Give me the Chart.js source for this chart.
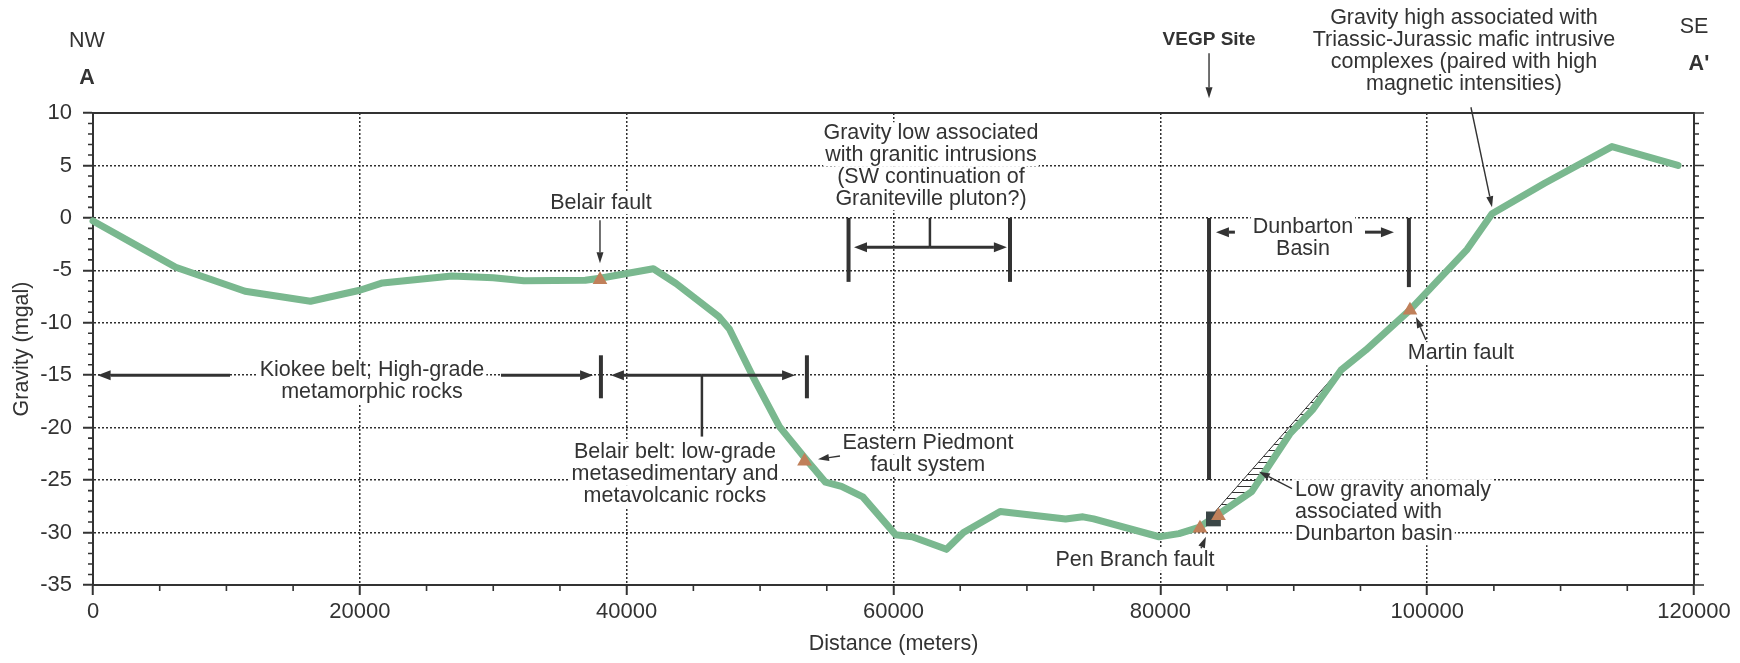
<!DOCTYPE html>
<html>
<head>
<meta charset="utf-8">
<script src="https://cdn.jsdelivr.net/npm/chart.js@4.4.1/dist/chart.umd.min.js"></script>
<style>
  html, body { margin: 0; padding: 0; background: #fff; }
  canvas { display: block; }
</style>
</head>
<body>
<canvas id="profileChart" width="1740" height="663"></canvas>
<script>
const distance = [0, 3800, 6200, 11400, 16300, 20000, 21700, 26900, 30000, 32300, 36900, 38000, 42000, 43700, 46900, 47700, 49450, 51450, 53300, 54900, 56100, 57700, 60150, 61400, 63970, 65250, 68000, 72900, 74200, 75000, 79900, 81400, 82900, 84200, 86850, 89700, 91400, 93550, 95400, 98700, 103000, 104860, 108800, 113850, 118800];
const gravity = [-0.3, -3.0, -4.7, -7.0, -7.95, -6.9, -6.2, -5.55, -5.7, -6.0, -5.95, -5.75, -4.85, -6.25, -9.4, -10.6, -15.1, -19.9, -22.8, -25.2, -25.6, -26.6, -30.2, -30.4, -31.6, -30.0, -28.0, -28.7, -28.5, -28.7, -30.4, -30.1, -29.5, -28.4, -26.1, -20.6, -18.3, -14.5, -12.6, -8.8, -3.0, 0.4, 3.3, 6.8, 5.0];
const faultDistance = [38000, 53330, 82970, 84360, 98710];
const faultGravity = [-5.9, -23.2, -29.6, -28.4, -8.8];
const siteDistance = [83980];
const siteGravity = [-28.7];
const anomalyDistance = [83970, 93210];
const anomalyGravity = [-28.2, -14.8];
const xRange = [0, 120000];
const yRange = [-35, 10];
const xStep = 20000;
const yStep = 5;
const xMinorStep = 5000;
const yMinorStep = 1;

const ink = "#333";
const green = "#7ab88f";
const fontFamily = "'Liberation Sans', Arial, sans-serif";

const notes = [
  { lines: ["NW"], x: -450, y: 16.85 },
  { lines: ["A"], x: -450, y: 13.3, bold: true },
  { lines: ["SE"], x: 120000, y: 18.2 },
  { lines: ["A'"], x: 120370, y: 14.65, bold: true },
  { lines: ["VEGP Site"], x: 83650, y: 16.94, bold: true, size: 19 },
  { lines: ["Gravity high associated with", "Triassic-Jurassic mafic intrusive", "complexes (paired with high", "magnetic intensities)"], x: 102760, y: 19.04 },
  { lines: ["Gravity low associated", "with granitic intrusions", "(SW continuation of", "Graniteville pluton?)"], x: 62810, y: 8.07, bg: true },
  { lines: ["Belair fault"], x: 38080, y: 1.4, bg: true },
  { lines: ["Kiokee belt; High-grade", "metamorphic rocks"], x: 20910, y: -14.5, bg: true },
  { lines: ["Belair belt: low-grade", "metasedimentary and", "metavolcanic rocks"], x: 43620, y: -22.34, bg: true },
  { lines: ["Eastern Piedmont", "fault system"], x: 62580, y: -21.5, bg: true },
  { lines: ["Dunbarton", "Basin"], x: 90690, y: -0.89, bg: true },
  { lines: ["Martin fault"], x: 102530, y: -12.9, bg: true },
  { lines: ["Low gravity anomaly", "associated with", "Dunbarton basin"], x: 90090, y: -25.96, align: "left", bg: true },
  { lines: ["Pen Branch fault"], x: 78100, y: -32.6, bg: true }
];

const bars = [
  [56630, 0, 56630, -6.1, 4], [68730, 0, 68730, -6.1, 4], [62730, -2.8, 62730, 0, 2.5],
  [38070, -13.1, 38070, -17.2, 4], [53510, -13.1, 53510, -17.2, 4], [45640, -15, 45640, -20.85, 2.5],
  [83650, 0, 83650, -25, 4], [98630, 0, 98630, -6.6, 4]
];

const spanArrows = [
  [62730, -2.8, 57040, -2.8], [62730, -2.8, 68500, -2.8],
  [10270, -15, 345, -15], [30580, -15, 37480, -15],
  [45640, -15, 38820, -15], [45640, -15, 52620, -15],
  [85590, -1.36, 84170, -1.36], [95340, -1.36, 97510, -1.36]
];

const pointers = [
  [83650, 15.7, 83650, 11.4],
  [103280, 10.55, 104860, 1.02],
  [38000, -0.22, 38000, -4.32],
  [55990, -22.7, 54340, -23.0],
  [99910, -11.65, 99160, -9.46],
  [89870, -25.8, 87390, -24.2],
  [83050, -31.5, 83420, -30.4]
];

const points = (xs, ys) => xs.map((x, i) => ({ x, y: ys[i] }));

const hatch = (() => {
  const c = document.createElement("canvas");
  c.width = 8;
  c.height = 6;
  const g = c.getContext("2d");
  g.strokeStyle = ink;
  g.lineWidth = 1;
  g.beginPath();
  g.moveTo(0, 0.5);
  g.lineTo(8, 0.5);
  g.stroke();
  return g.createPattern(c, "repeat");
})();

function arrow(ctx, x1, y1, x2, y2, width, headLen, headHalf) {
  const a = Math.atan2(y2 - y1, x2 - x1);
  const bx = x2 - Math.cos(a) * headLen;
  const by = y2 - Math.sin(a) * headLen;
  ctx.lineWidth = width;
  ctx.beginPath();
  ctx.moveTo(x1, y1);
  ctx.lineTo(bx, by);
  ctx.stroke();
  ctx.beginPath();
  ctx.moveTo(x2, y2);
  ctx.lineTo(bx + Math.sin(a) * headHalf, by - Math.cos(a) * headHalf);
  ctx.lineTo(bx - Math.sin(a) * headHalf, by + Math.cos(a) * headHalf);
  ctx.closePath();
  ctx.fill();
}

const notesPlugin = {
  id: "notes",
  beforeDatasetsDraw(chart) {
    const { ctx, scales: { x, y } } = chart;
    ctx.save();
    notes.forEach(note => {
      const size = note.size || 21.5;
      ctx.font = `${note.bold ? "bold " : ""}${size}px ${fontFamily}`;
      ctx.textBaseline = "middle";
      ctx.textAlign = note.align || "center";
      const px = x.getPixelForValue(note.x);
      const py0 = y.getPixelForValue(note.y);
      note.lines.forEach((line, i) => {
        const py = py0 + i * 22;
        if (note.bg) {
          const w = ctx.measureText(line).width + 4;
          const left = note.align === "left" ? px - 2 : px - w / 2;
          ctx.fillStyle = "#fff";
          ctx.fillRect(left, py - 11, w, 22);
        }
        ctx.fillStyle = ink;
        ctx.fillText(line, px, py);
      });
    });
    ctx.restore();
  },
  afterDatasetsDraw(chart) {
    const { ctx, scales: { x, y } } = chart;
    ctx.save();
    ctx.strokeStyle = ink;
    ctx.fillStyle = ink;
    bars.forEach(([x1, y1, x2, y2, w]) => {
      ctx.lineWidth = w;
      ctx.beginPath();
      ctx.moveTo(x.getPixelForValue(x1), y.getPixelForValue(y1));
      ctx.lineTo(x.getPixelForValue(x2), y.getPixelForValue(y2));
      ctx.stroke();
    });
    spanArrows.forEach(([x1, y1, x2, y2]) => arrow(ctx, x.getPixelForValue(x1), y.getPixelForValue(y1), x.getPixelForValue(x2), y.getPixelForValue(y2), 3, 13, 5));
    pointers.forEach(([x1, y1, x2, y2]) => arrow(ctx, x.getPixelForValue(x1), y.getPixelForValue(y1), x.getPixelForValue(x2), y.getPixelForValue(y2), 1.4, 11, 3.5));
    ctx.restore();
  },
  afterDraw(chart) {
    const { ctx, chartArea: { left, right, top, bottom }, scales: { x, y } } = chart;
    ctx.save();
    ctx.strokeStyle = ink;
    ctx.lineWidth = 2;
    ctx.beginPath();
    ctx.moveTo(left, top);
    ctx.lineTo(right, top);
    ctx.lineTo(right, bottom);
    ctx.stroke();
    ctx.lineWidth = 1.6;
    ctx.beginPath();
    for (let v = xRange[0]; v <= xRange[1]; v += xMinorStep) {
      if (v % xStep === 0) continue;
      const px = x.getPixelForValue(v);
      ctx.moveTo(px, bottom);
      ctx.lineTo(px, bottom + 6);
    }
    for (let v = yRange[0]; v <= yRange[1]; v += yMinorStep) {
      const py = y.getPixelForValue(v);
      const len = v % yStep === 0 ? 10 : 5;
      ctx.moveTo(right, py);
      ctx.lineTo(right + len, py);
      if (v % yStep !== 0) {
        ctx.moveTo(left, py);
        ctx.lineTo(left - 5, py);
      }
    }
    ctx.stroke();
    ctx.restore();
  }
};

const axisFont = { family: fontFamily, size: 22 };
const titleFont = { family: fontFamily, size: 21.5 };

new Chart(document.getElementById("profileChart"), {
  type: "line",
  data: {
    datasets: [
      { data: points(faultDistance, faultGravity), showLine: false, pointStyle: "triangle", pointRadius: 8.5, pointBackgroundColor: "#c0805a", pointBorderWidth: 0, clip: false },
      { data: points(siteDistance, siteGravity), showLine: false, pointStyle: "rect", pointRadius: 10.5, pointBackgroundColor: "#3b4646", pointBorderWidth: 0, clip: false },
      { data: points(distance, gravity), borderColor: green, borderWidth: 7, pointRadius: 0, tension: 0, borderJoinStyle: "round", borderCapStyle: "round", clip: 6 },
      { data: points(anomalyDistance, anomalyGravity), borderColor: ink, borderWidth: 1, pointRadius: 0, fill: 2, backgroundColor: hatch }
    ]
  },
  options: {
    responsive: false,
    animation: false,
    events: [],
    layout: { padding: { top: 113, right: 46, left: 0, bottom: 0 } },
    plugins: { legend: { display: false }, tooltip: { enabled: false } },
    scales: {
      x: {
        type: "linear",
        min: xRange[0],
        max: xRange[1],
        afterFit: scale => { scale.height = 78; },
        ticks: { stepSize: xStep, color: ink, font: axisFont, padding: 4, maxRotation: 0, callback: v => String(v) },
        grid: { color: "#2f2f2f", lineWidth: 1.5, tickLength: 10, tickWidth: 2, tickColor: ink },
        border: { color: ink, width: 2, dash: [2, 2] },
        title: { display: true, text: "Distance (meters)", color: ink, font: titleFont, padding: { top: 0, bottom: 6 } }
      },
      y: {
        type: "linear",
        min: yRange[0],
        max: yRange[1],
        afterFit: scale => { scale.width = 93; },
        ticks: { stepSize: yStep, color: ink, font: axisFont, padding: 11, callback: v => String(v) },
        grid: { color: "#2f2f2f", lineWidth: 1.5, tickLength: 10, tickWidth: 2, tickColor: ink },
        border: { color: ink, width: 2, dash: [2, 2] },
        title: { display: true, text: "Gravity (mgal)", color: ink, font: titleFont, padding: { top: 9, bottom: 0 } }
      }
    }
  },
  plugins: [notesPlugin]
});
</script>
</body>
</html>
